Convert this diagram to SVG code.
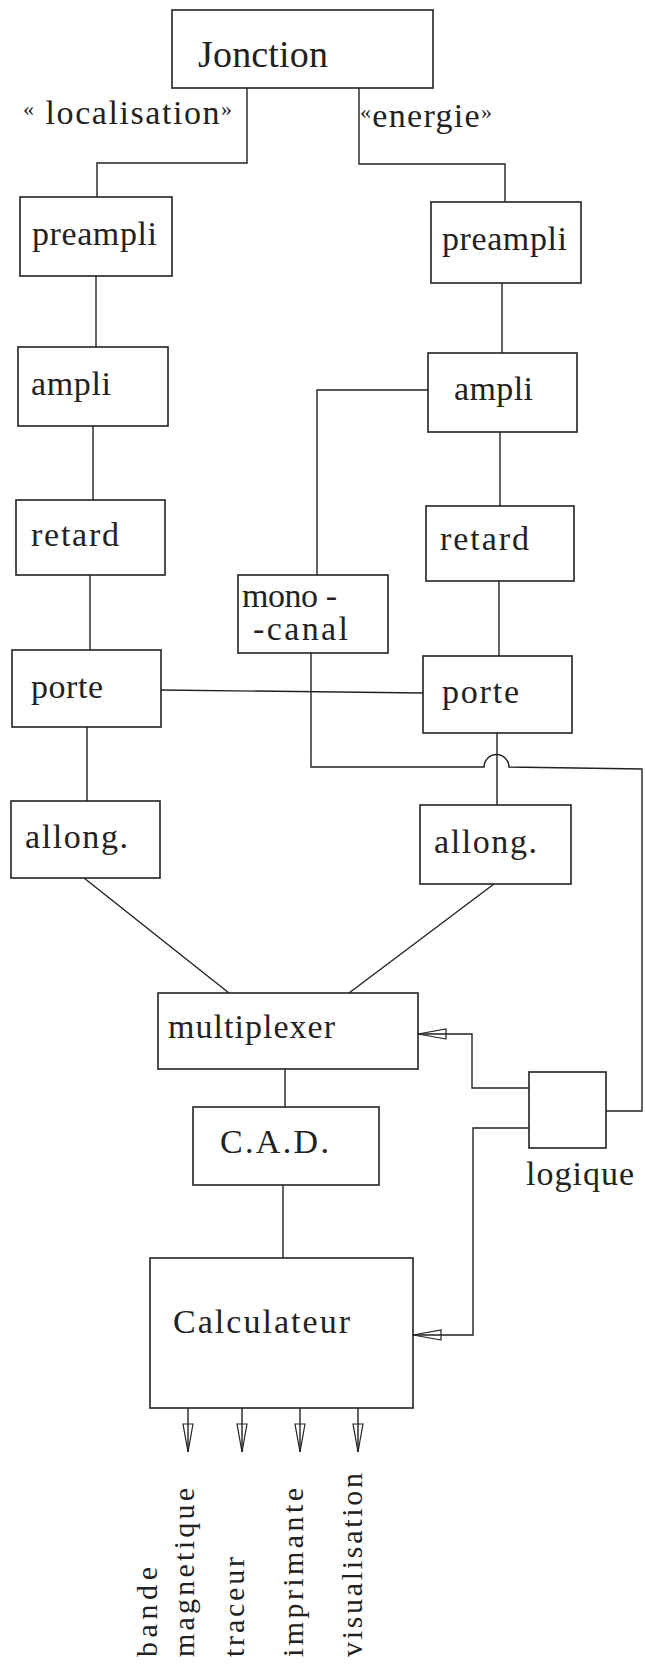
<svg xmlns="http://www.w3.org/2000/svg" width="645" height="1666" viewBox="0 0 645 1666">
<style>
.box{fill:none;stroke:#222;stroke-width:1.6}
.ln{fill:none;stroke:#222;stroke-width:1.4}
text{font-family:'Liberation Serif','DejaVu Serif',serif;fill:#222}
.t{font-size:34px}
.tv{font-size:30px}
.q{font-size:22px}
</style>
<defs>
<marker id="ah" viewBox="0 -6 30 12" refX="29" refY="0" markerWidth="30" markerHeight="12" markerUnits="userSpaceOnUse" orient="auto">
<path d="M1,-5 L29,0 L1,5 Z" fill="none" stroke="#222" stroke-width="1.2"/>
</marker>
</defs>
<rect width="645" height="1666" fill="#fff"/>
<g id="connectors">
<path class="ln" d="M247,88 V163 H97 V197"/>
<path class="ln" d="M359,88 V164 H505 V202"/>
<path class="ln" d="M96,276 V347"/>
<path class="ln" d="M93,426 V500"/>
<path class="ln" d="M90,575 V650"/>
<path class="ln" d="M87,727 V801"/>
<path class="ln" d="M84,878 L229,993"/>
<path class="ln" d="M502,283 V353"/>
<path class="ln" d="M428,390 H317 V575"/>
<path class="ln" d="M500,432 V506"/>
<path class="ln" d="M499,581 V656"/>
<path class="ln" d="M161,690 L423,693"/>
<path class="ln" d="M497,733 V805"/>
<path class="ln" d="M494,884 L349,993"/>
<path class="ln" d="M311,653 V767 H484 A12.5,12.5 0 0 1 509,767 L642,769 V1111 H606"/>
<path class="ln" d="M529,1088 H472 V1034 H418" marker-end="url(#ah)"/>
<path class="ln" d="M529,1128 H473 V1335 H413" marker-end="url(#ah)"/>
<path class="ln" d="M285,1069 V1107"/>
<path class="ln" d="M283,1185 V1258"/>
<path class="ln" d="M188,1408 V1452" marker-end="url(#ah)"/>
<path class="ln" d="M242,1408 V1452" marker-end="url(#ah)"/>
<path class="ln" d="M300,1408 V1452" marker-end="url(#ah)"/>
<path class="ln" d="M358,1408 V1452" marker-end="url(#ah)"/>
</g>
<g id="jonction"><rect class="box" x="172" y="10" width="261" height="78"/><text x="198" y="67" style="font-size:38px" textLength="130">Jonction</text></g>
<g id="lbl-localisation"><text class="t" x="23" y="124" textLength="209"><tspan class="q" dy="-8">«</tspan><tspan dy="8"> localisation</tspan><tspan class="q" dy="-8">»</tspan></text></g>
<g id="lbl-energie"><text class="t" x="360" y="127" textLength="132"><tspan class="q" dy="-8">«</tspan><tspan dy="8">energie</tspan><tspan class="q" dy="-8">»</tspan></text></g>
<g id="preampli-l"><rect class="box" x="20" y="197" width="152" height="79"/><text class="t" x="32" y="245" textLength="125">preampli</text></g>
<g id="ampli-l"><rect class="box" x="18" y="347" width="150" height="79"/><text class="t" x="31" y="395" textLength="80">ampli</text></g>
<g id="retard-l"><rect class="box" x="16" y="500" width="149" height="75"/><text class="t" x="31" y="546" textLength="88">retard</text></g>
<g id="porte-l"><rect class="box" x="12" y="650" width="149" height="77"/><text class="t" x="31" y="698" textLength="72">porte</text></g>
<g id="allong-l"><rect class="box" x="11" y="801" width="149" height="77"/><text class="t" x="25" y="848" textLength="103">allong.</text></g>
<g id="preampli-r"><rect class="box" x="431" y="202" width="150" height="81"/><text class="t" x="442" y="250" textLength="125">preampli</text></g>
<g id="ampli-r"><rect class="box" x="428" y="353" width="149" height="79"/><text class="t" x="454" y="400" textLength="79">ampli</text></g>
<g id="retard-r"><rect class="box" x="426" y="506" width="148" height="75"/><text class="t" x="440" y="550" textLength="89">retard</text></g>
<g id="porte-r"><rect class="box" x="423" y="656" width="149" height="77"/><text class="t" x="442" y="703" textLength="77">porte</text></g>
<g id="allong-r"><rect class="box" x="420" y="805" width="151" height="79"/><text class="t" x="434" y="853" textLength="103">allong.</text></g>
<g id="monocanal"><rect class="box" x="238" y="575" width="150" height="78"/><text class="t" x="242" y="607" textLength="95">mono -</text><text class="t" x="253" y="640" textLength="95">-canal</text></g>
<g id="multiplexer"><rect class="box" x="158" y="993" width="260" height="76"/><text class="t" x="168" y="1038" textLength="167">multiplexer</text></g>
<g id="logique"><rect class="box" x="529" y="1072" width="77" height="76"/><text class="t" x="526" y="1185" textLength="108">logique</text></g>
<g id="cad"><rect class="box" x="193" y="1107" width="186" height="78"/><text class="t" x="220" y="1153" textLength="109">C.A.D.</text></g>
<g id="calculateur"><rect class="box" x="150" y="1258" width="263" height="150"/><text class="t" x="173" y="1333" textLength="177">Calculateur</text></g>
<g id="outputs">
<text class="tv" transform="translate(157,1657) rotate(-90)" textLength="90">bande</text>
<text class="tv" transform="translate(194,1657) rotate(-90)" textLength="169">magnetique</text>
<text class="tv" transform="translate(244,1657) rotate(-90)" textLength="100">traceur</text>
<text class="tv" transform="translate(303,1657) rotate(-90)" textLength="169">imprimante</text>
<text class="tv" transform="translate(362,1657) rotate(-90)" textLength="184">visualisation</text>
</g>
</svg>
